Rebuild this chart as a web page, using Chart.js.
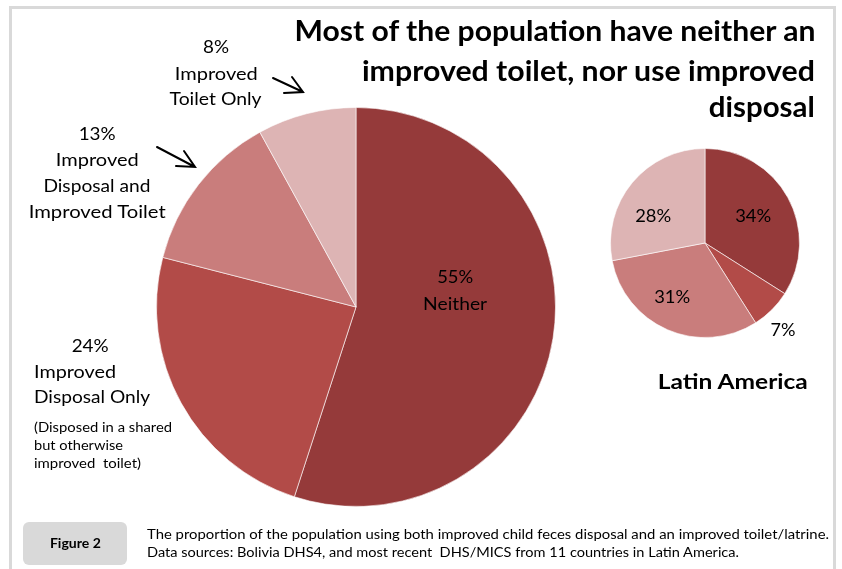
<!DOCTYPE html>
<html>
<head>
<meta charset="utf-8">
<script src="https://cdn.jsdelivr.net/npm/chart.js@4.4.0/dist/chart.umd.min.js"></script>
<style>
  body { margin: 0; width: 842px; height: 569px; overflow: hidden; background: #fff; font-family: Lato, "Open Sans", sans-serif; color: #000; position: relative; }
  #frame { position: absolute; left: 9px; top: 6px; width: 827px; height: 620px; border: 3px solid #d9d9d9; box-sizing: border-box; }
  .t { position: absolute; white-space: pre; line-height: 1.2; }
  #bigBox { position: absolute; left: 156px; top: 107px; width: 400px; height: 400px; }
  #smallBox { position: absolute; left: 610px; top: 148px; width: 190px; height: 190px; }
  #figBox { position: absolute; left: 23px; top: 522px; width: 104px; height: 43px; background: #d9d9d9; border-radius: 6px; }
  svg { position: absolute; left: 0; top: 0; }
</style>
</head>
<body>
<div id="frame"></div>
<div id="bigBox"><canvas id="bigPie"></canvas></div>
<div id="smallBox"><canvas id="smallPie"></canvas></div>
<div id="figBox"></div>
<svg width="842" height="569">
  <g stroke="#000" stroke-width="2" fill="none" stroke-linecap="round">
    <path d="M273 78 L303 92 M292 77 L303 92 L284 93" />
    <path d="M157 147 L195 167 M184 151 L195 167 L176 166" />
  </g>
</svg>
<script>
// Bolivia (big pie) and Latin America (small pie), same category order
const categorias = ['Neither', 'Improved Disposal Only', 'Improved Disposal and Improved Toilet', 'Improved Toilet Only'];
const bolivia = [55, 24, 13, 8];
const latinAmerica = [34, 7, 31, 28];
const cores = ['#953a3a', '#b24b48', '#c97d7c', '#ddb4b4'];

function pie(id, valores) {
    return new Chart(document.getElementById(id), {
        type: 'pie',
        data: {
            labels: categorias,
            datasets: [{
                data: valores,
                backgroundColor: cores,
                borderColor: 'rgba(255,255,255,0.6)',
                borderWidth: 1
            }]
        },
        options: {
            responsive: true,
            maintainAspectRatio: false,
            animation: false,
            layout: { padding: 0 },
            plugins: { legend: { display: false }, tooltip: { enabled: false } }
        }
    });
}

pie('bigPie', bolivia);
pie('smallPie', latinAmerica);

// texto posicionado pela linha de base, largura ajustada ao original
function texto(txt, x, base, size, align, w, bold) {
    const el = document.createElement('div');
    el.className = 't';
    el.textContent = txt;
    el.style.fontSize = size + 'px';
    if (bold) el.style.fontWeight = '700';
    document.body.appendChild(el);
    const natural = el.getBoundingClientRect().width;
    const s = w ? w / natural : 1;
    let left = x;
    if (align === 'center') left = x - natural / 2;
    if (align === 'right') left = x - natural;
    el.style.left = left + 'px';
    el.style.top = (base - 0.987 * size) + 'px';
    el.style.transformOrigin = align === 'center' ? '50% 0' : (align === 'right' ? '100% 0' : '0 0');
    el.style.transform = 'scaleX(' + s + ')';
}

const pct = v => v + '%';
const fs = 17.5;

// título
texto('Most of the population have neither an', 815, 42, 28, 'right', 521, true);
texto('improved toilet, nor use improved', 815, 82, 28, 'right', 453, true);
texto('disposal', 815, 118, 28, 'right', 106, true);

// rótulos da pizza grande
texto(pct(bolivia[3]), 216, 53, fs, 'center', 26);
texto('Improved', 216, 80, fs, 'center', 83);
texto('Toilet Only', 216, 105, fs, 'center', 92);

texto(pct(bolivia[2]), 97, 140, fs, 'center', 37);
texto('Improved', 97, 166, fs, 'center', 83);
texto('Disposal and', 97, 192, fs, 'center', 107);
texto('Improved Toilet', 97, 218, fs, 'center', 137);

texto(pct(bolivia[1]), 90, 352, fs, 'center', 37);
texto('Improved', 34, 378, fs, 'left', 82);
texto('Disposal Only', 34, 403, fs, 'left', 116);
texto('(Disposed in a shared', 34, 432, 13.5, 'left', 138);
texto('but otherwise', 34, 450, 13.5, 'left', 89);
texto('improved  toilet)', 34, 468, 13.5, 'left', 107);

texto(pct(bolivia[0]), 455, 283, fs, 'center', 36);
texto('Neither', 455, 310, fs, 'center', 64);

// rótulos da pizza pequena
texto(pct(latinAmerica[0]), 753, 222, fs, 'center', 36);
texto(pct(latinAmerica[1]), 783, 336, fs, 'center', 25);
texto(pct(latinAmerica[2]), 672, 303, fs, 'center', 36);
texto(pct(latinAmerica[3]), 653, 222, fs, 'center', 36);
texto('Latin America', 733, 390, 21.5, 'center', 150, true);

// rodapé
texto('Figure 2', 75, 549, 14, 'center', 51, true);
texto('The proportion of the population using both improved child feces disposal and an improved toilet/latrine.', 147, 539, 13.5, 'left', 682);
texto('Data sources: Bolivia DHS4, and most recent  DHS/MICS from 11 countries in Latin America.', 147, 557, 13.5, 'left', 592);
</script>
</body>
</html>
